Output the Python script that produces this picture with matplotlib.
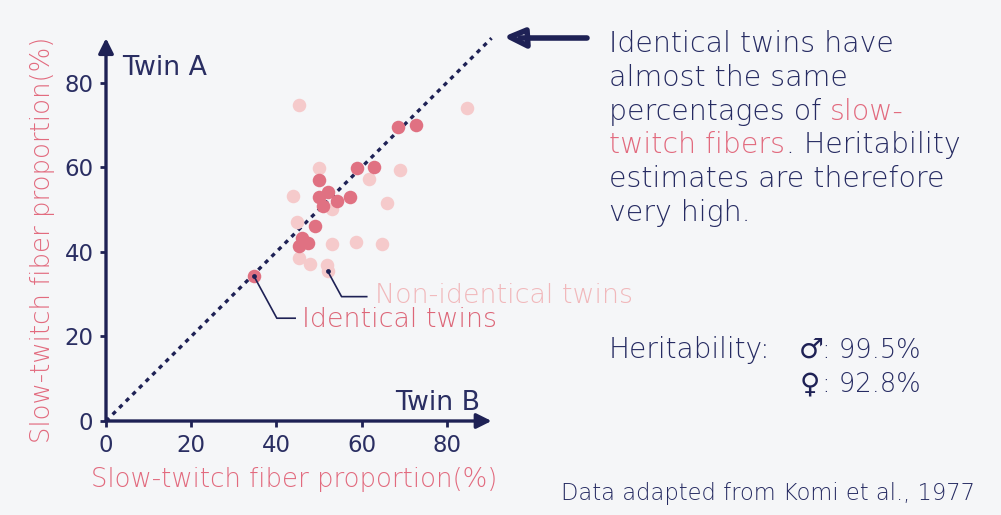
import matplotlib
matplotlib.use("Agg")
import matplotlib.pyplot as plt
from matplotlib.patches import Polygon

# ---------------- data ----------------
identical_b = [34.7, 68.6, 72.8, 59.0, 62.9, 49.9, 52.1, 49.9, 54.3, 57.2, 50.9, 49.1, 46.1, 47.5, 45.3]
identical_a = [34.3, 69.4, 69.9, 59.7, 60.1, 57.0, 54.1, 52.9, 52.1, 52.9, 50.8, 46.1, 43.3, 42.0, 41.4]

nonident_b = [45.4, 84.7, 50.0, 68.9, 61.8, 43.9, 65.9, 53.1, 44.8, 53.1, 58.6, 64.9, 45.3, 48.0, 51.8, 52.0]
nonident_a = [74.7, 74.1, 59.9, 59.3, 57.1, 53.1, 51.6, 50.0, 47.1, 41.8, 42.2, 41.8, 38.5, 37.1, 36.9, 35.5]

ticks = [0, 20, 40, 60, 80]
tick_labels = ["0", "20", "40", "60", "80"]

NAVY = "#1E2155"
TEXT = "#262B62"
DARK_PINK = "#E07182"
LIGHT_PINK = "#F5CACB"
LABEL_PINK = "#E26A7E"
BG = "#F5F6F8"

plt.rcParams["font.family"] = ["DejaVu Sans"]
plt.rcParams["font.weight"] = "light"

W, H = 1001, 515
fig = plt.figure(figsize=(W / 100, H / 100), dpi=100, facecolor=BG)

def fy(py):
    return 1 - py / H

px_x = 4.26
px_y = 4.23
lim = 92
ax = fig.add_axes([106 / W, (H - 421) / H, lim * px_x / W, lim * px_y / H])
ax.set_facecolor(BG)
ax.set_xlim(0, lim)
ax.set_ylim(0, lim)
for s in ax.spines.values():
    s.set_visible(False)

ax.set_xticks(ticks)
ax.set_xticklabels(tick_labels, fontweight="normal")
ax.set_yticks(ticks)
ax.set_yticklabels(tick_labels, fontweight="normal")
ax.tick_params(axis="both", length=4, width=2, color=NAVY, labelcolor="#2A2E62",
               labelsize=16.5, pad=5)

# axes arrows
for end in [(90.5, 0), (0, 90.5)]:
    ax.annotate("", xy=end, xytext=(0, 0), xycoords="data",
                arrowprops=dict(arrowstyle="-|>,head_length=0.9,head_width=0.45",
                                color=NAVY, lw=2.4, shrinkA=0, shrinkB=0),
                annotation_clip=False)

# diagonal
ax.plot([0, 90.5], [0, 90.5], color=NAVY, lw=2.4, linestyle=(0, (1.3, 1.5)),
        solid_capstyle="butt", zorder=2)

ax.scatter(nonident_b, nonident_a, s=95, color=LIGHT_PINK, linewidths=0, zorder=3)
ax.scatter(identical_b, identical_a, s=95, color=DARK_PINK, linewidths=0, zorder=4)

# annotations
ax.plot([identical_b[0], 40.1, 44.4], [identical_a[0], 24.3, 24.3], color=NAVY, lw=1.2, zorder=5)
ax.plot([nonident_b[-1], 55.3, 61.2], [nonident_a[-1], 29.4, 29.4], color=NAVY, lw=1.2, zorder=5)
ax.scatter([identical_b[0], nonident_b[-1]], [identical_a[0], nonident_a[-1]],
           s=12, color=NAVY, zorder=6, linewidths=0)

fig.text(302 / W, fy(327), "Identical twins", color="#DD6678", fontsize=19.4, va="baseline", ha="left")
fig.text(375 / W, fy(303), "Non-identical twins", color="#F1B8BB", fontsize=19.4, va="baseline", ha="left")

fig.text(122 / W, fy(75), "Twin A", color="#2A2E62", fontsize=19.3, va="baseline", ha="left",
         fontweight="normal")
fig.text(480 / W, fy(410), "Twin B", color="#2A2E62", fontsize=19.3, va="baseline", ha="right",
         fontweight="normal")

# axis labels
fig.text(42.5 / W, fy(240), "Slow-twitch fiber proportion(%)", rotation=90,
         color=LABEL_PINK, fontsize=18.7, ha="center", va="center")
fig.text(294 / W, fy(486.5), "Slow-twitch fiber proportion(%)",
         color=LABEL_PINK, fontsize=18.7, ha="center", va="baseline")

# big arrow (hand-drawn style)
fig.add_artist(plt.Line2D([520 / W, 587 / W], [fy(38), fy(38)], color=NAVY,
                          lw=4, solid_capstyle="round", transform=fig.transFigure))
tri = Polygon([[510 / W, fy(37)], [527 / W, fy(30)], [528 / W, fy(46)]],
              closed=True, facecolor=BG, edgecolor=NAVY, lw=4, joinstyle="round",
              transform=fig.transFigure)
fig.add_artist(tri)

# paragraph
fs_p = 20.4
x0 = 609 / W
base = [52 + 33.8 * i for i in range(6)]
fig.text(x0, fy(base[0]), "Identical twins have", color=TEXT, fontsize=fs_p, va="baseline")
fig.text(x0, fy(base[1]), "almost the same", color=TEXT, fontsize=fs_p, va="baseline")
t3 = fig.text(x0, fy(base[2]), "percentages of", color=TEXT, fontsize=fs_p, va="baseline")
t4 = fig.text(x0, fy(base[3]), "twitch fibers", color=LABEL_PINK, fontsize=fs_p, va="baseline")
fig.text(x0, fy(base[4]), "estimates are therefore", color=TEXT, fontsize=fs_p, va="baseline")
fig.text(x0, fy(base[5]), "very high.", color=TEXT, fontsize=fs_p, va="baseline")

fig.canvas.draw()
r = fig.canvas.get_renderer()
tmp = fig.text(x0, 0.5, "percentages of s", fontsize=fs_p)
tmp2 = fig.text(x0, 0.5, "s", fontsize=fs_p)
w1 = tmp.get_window_extent(r).width - tmp2.get_window_extent(r).width
tmp.remove(); tmp2.remove()
fig.text(x0 + w1 / W, fy(base[2]), "slow-", color=LABEL_PINK, fontsize=fs_p, va="baseline")
e4 = t4.get_window_extent(r)
fig.text(e4.x1 / W + 1 / W, fy(base[3]), ". Heritability", color=TEXT, fontsize=fs_p, va="baseline")

# heritability
fs_h = 20.2
fig.text(609 / W, fy(358), "Heritability:", color=TEXT, fontsize=fs_h, va="baseline")
fig.text(799 / W, fy(358), "♂", color=NAVY, fontsize=20, va="baseline",
         fontweight="bold")
fig.text(822 / W, fy(358), ": 99.5%", color=TEXT, fontsize=18.5, va="baseline")
fig.text(800 / W, fy(392), "♀", color=NAVY, fontsize=20, va="baseline",
         fontweight="bold")
fig.text(822 / W, fy(392), ": 92.8%", color=TEXT, fontsize=18.5, va="baseline")

fig.text(975 / W, fy(500), "Data adapted from Komi et al., 1977", color=TEXT,
         fontsize=16.3, ha="right", va="baseline")

fig.savefig("out.png", dpi=100, facecolor=BG)
